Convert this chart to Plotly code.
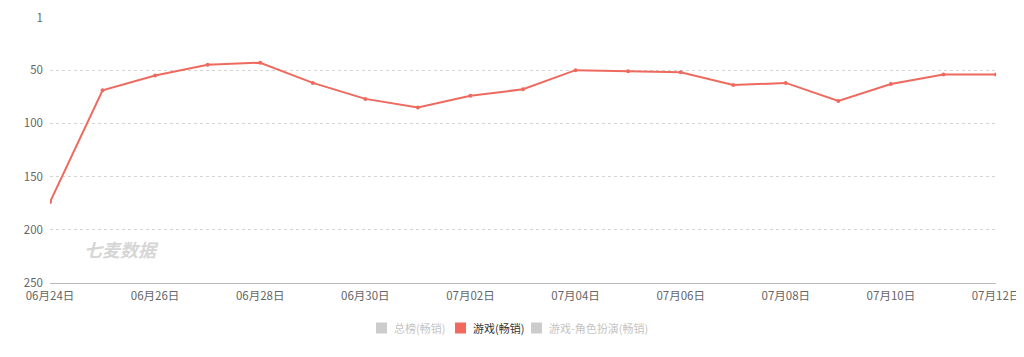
import plotly.graph_objects as go

dates = ["06月24日", "06月25日", "06月26日", "06月27日", "06月28日", "06月29日", "06月30日",
         "07月01日", "07月02日", "07月03日", "07月04日", "07月05日", "07月06日", "07月07日",
         "07月08日", "07月09日", "07月10日", "07月11日", "07月12日"]
game_rank = [174, 69, 55, 45, 43, 62, 77, 85, 74, 68, 50, 51, 52, 64, 62, 79, 63, 54, 54]
y_ticks = [1, 50, 100, 150, 200, 250]
x_ticks = dates[::2]

series_names = ["总榜(畅销)", "游戏(畅销)", "游戏-角色扮演(畅销)"]
series_visible = [False, True, False]
legend_swatch_px = [381.5, 460.5, 536.5]   # legend layout positions (page pixels)

line_color = "#ee6a5f"
font_cjk = "Noto Sans CJK SC, Microsoft YaHei, sans-serif"

# page is rendered with an 8px body margin; size figure so plot area lands at page (50..996, 18..283)
OFF = 8
W, H = 1024 - OFF, 357 - OFF
PL, PR, PT, PB = 50, 996, 18, 283  # plot area in page pixels
ML, MR, MT, MB = PL - OFF, 1024 - PR, PT - OFF, 357 - PB
PW, PH = PR - PL, PB - PT


def px_x(p):
    return (p - PL) / PW


def px_y(p):
    return (PB - p) / PH


fig = go.Figure()
fig.add_trace(go.Scatter(
    x=dates, y=game_rank, mode="lines+markers",
    line=dict(color=line_color, width=2),
    marker=dict(color=line_color, size=4),
    showlegend=False, name=series_names[1],
))

shapes = []
annotations = [dict(
    text="<i><b>七麦数据</b></i>", xref="paper", yref="paper",
    x=px_x(82), y=px_y(249), xanchor="left", yanchor="middle", showarrow=False,
    font=dict(size=18, color="#d6d6d6", family=font_cjk),
)]
leg_y = 328
for name, vis, cx in zip(series_names, series_visible, legend_swatch_px):
    col = "#f2685c" if vis else "#cccccc"
    shapes.append(dict(
        type="rect", xref="paper", yref="paper",
        x0=px_x(cx - 5.5), x1=px_x(cx + 5.5), y0=px_y(leg_y + 5.5), y1=px_y(leg_y - 5.5),
        fillcolor=col, line=dict(width=0),
    ))
    annotations.append(dict(
        text=name, xref="paper", yref="paper", x=px_x(cx + 10), y=px_y(leg_y),
        xanchor="left", yanchor="middle", showarrow=False,
        font=dict(size=11, color="#333333" if vis else "#c4c4c4", family=font_cjk),
    ))

fig.update_layout(
    width=W, height=H,
    margin=dict(l=ML, r=MR, t=MT, b=MB, autoexpand=False),
    plot_bgcolor="white", paper_bgcolor="white",
    font=dict(family=font_cjk, size=12, color="#666666"),
    showlegend=False,
    xaxis=dict(
        type="category", categoryorder="array", categoryarray=dates,
        range=[0, len(dates) - 1], automargin=False,
        tickvals=x_ticks, ticktext=x_ticks,
        showgrid=False, zeroline=False,
        showline=True, linecolor="#bbbbbb", linewidth=1,
        ticks="", ticklabelstandoff=2,
        tickfont=dict(size=11.5, color="#666666"),
    ),
    yaxis=dict(
        range=[250, 1], tickvals=y_ticks, ticktext=[str(v) for v in y_ticks],
        automargin=False,
        showgrid=True, gridcolor="#d4d4d4", griddash="dot", gridwidth=1,
        zeroline=False, showline=False, ticks="",
        ticklabelstandoff=6,
        tickfont=dict(size=11.5, color="#666666"),
    ),
    shapes=shapes,
    annotations=annotations,
)

fig.write_html("out.html")
